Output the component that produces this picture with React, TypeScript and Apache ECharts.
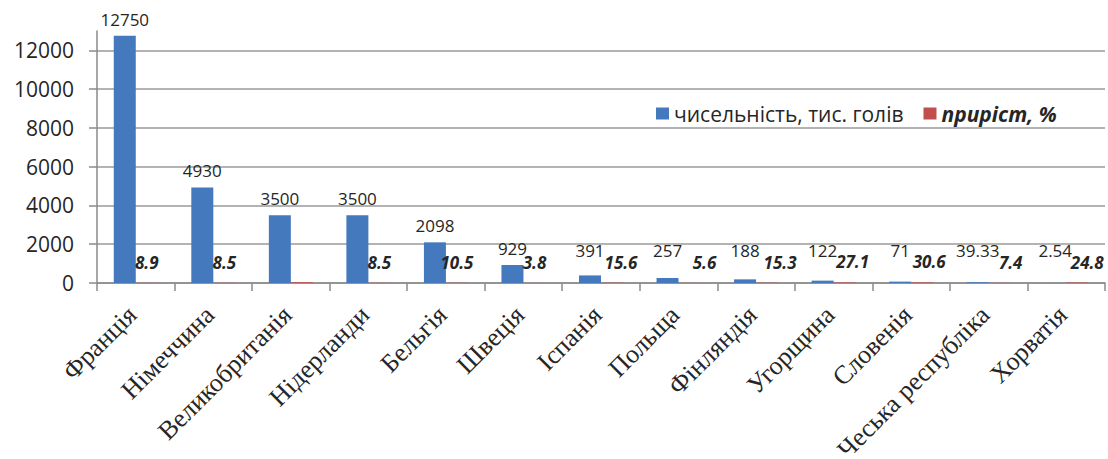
import React, { useEffect, useRef } from "react";
import * as echarts from "echarts";

const categories = [
  "Франція",
  "Німеччина",
  "Великобританія",
  "Нідерланди",
  "Бельгія",
  "Швеція",
  "Іспанія",
  "Польща",
  "Фінляндія",
  "Угорщина",
  "Словенія",
  "Чеська республіка",
  "Хорватія",
];
const headcount = [12750, 4930, 3500, 3500, 2098, 929, 391, 257, 188, 122, 71, 39.33, 2.54];
const growth = [8.9, 8.5, 40, 8.5, 10.5, 3.8, 15.6, 5.6, 15.3, 27.1, 30.6, 7.4, 24.8];
const growthLabelHidden = [false, false, true, false, false, false, false, false, false, false, false, false, false];
const yTicks = [0, 2000, 4000, 6000, 8000, 10000, 12000];
const seriesNames = ["чисельність, тис. голів", "приріст, %"];

// label layout (style only)
const growthLabelDx = [0, 0, 0, 0, 0, 0, 9, 15, 13, 8, 7, 11, 10];
const GRID_TOP = 31;
const GRID_BOTTOM = 176;
const H = 459;
const Y_MAX = 13000;

export default function App() {
  const ref = useRef<HTMLDivElement>(null);
  useEffect(() => {
    document.body.style.margin = "0";
    const chart = echarts.init(ref.current!, null, { renderer: "svg" });
    const gridColors = yTicks.map(() => "#9a9a9a").concat(["rgba(0,0,0,0)"]);
    const plotH = H - GRID_TOP - GRID_BOTTOM;
    const baseY = H - GRID_BOTTOM;
    // lift small-bar labels so they sit at least at a common line
    const headLift = (v: number) => {
      const top = baseY - (v / Y_MAX) * plotH;
      return Math.max(0, top - 267);
    };
    chart.setOption({
      animation: false,
      backgroundColor: "#ffffff",
      grid: {
        left: 97,
        right: 3,
        top: GRID_TOP,
        bottom: GRID_BOTTOM,
        containLabel: false,
        outerBoundsMode: "none",
      },
      legend: {
        left: 651,
        top: 98,
        itemWidth: 13,
        itemHeight: 12,
        itemGap: 20,
        icon: "rect",
        data: seriesNames,
        formatter: (name: string) => (name === seriesNames[1] ? "{b|" + name + "}" : name),
        textStyle: {
          fontFamily: "Open Sans",
          fontSize: 21,
          color: "#262626",
          rich: {
            b: { fontFamily: "Open Sans", fontSize: 21, fontWeight: "bold", fontStyle: "italic", color: "#262626" },
          },
        },
      },
      xAxis: {
        type: "category",
        data: categories,
        boundaryGap: true,
        axisLine: { lineStyle: { color: "#8a8a8a", width: 1.5 } },
        axisTick: { show: true, length: 8, lineStyle: { color: "#8a8a8a", width: 1.5 } },
        axisLabel: {
          interval: 0,
          rotate: 45,
          margin: 24,
          padding: [0, 5, 0, 0],
          fontFamily: "Liberation Serif",
          fontSize: 26,
          color: "#262626",
        },
      },
      yAxis: {
        type: "value",
        min: 0,
        max: Y_MAX,
        interval: 2000,
        axisLine: { show: true, lineStyle: { color: "#8a8a8a", width: 1.5 } },
        axisTick: { show: true, length: 8, lineStyle: { color: "#8a8a8a", width: 1.5 } },
        axisLabel: {
          showMaxLabel: false,
          margin: 23,
          fontFamily: "Open Sans",
          fontSize: 21,
          color: "#262626",
          formatter: (v: number) => String(v),
        },
        splitLine: { show: true, lineStyle: { color: gridColors, width: 1.5 } },
      },
      series: [
        {
          name: seriesNames[0],
          type: "bar",
          data: headcount.map((v) => ({ value: v, label: { offset: [0, -headLift(v)] } })),
          barWidth: 22,
          barGap: "0%",
          itemStyle: { color: "#4479bd" },
          label: {
            show: true,
            position: "top",
            distance: 8,
            fontFamily: "Open Sans",
            fontSize: 17,
            color: "#262626",
          },
        },
        {
          name: seriesNames[1],
          type: "bar",
          data: growth.map((v, i) => ({
            value: v,
            label: { show: !growthLabelHidden[i], offset: [growthLabelDx[i], 0] },
          })),
          barWidth: 22,
          itemStyle: { color: "#c0504d" },
          label: {
            show: true,
            position: "top",
            distance: 12,
            fontFamily: "Open Sans",
            fontSize: 17,
            fontWeight: "bold",
            fontStyle: "italic",
            color: "#262626",
          },
        },
      ],
    });
    return () => chart.dispose();
  }, []);
  return <div ref={ref} style={{ width: 1108, height: 459, position: "absolute", left: 0, top: 0 }} />;
}
